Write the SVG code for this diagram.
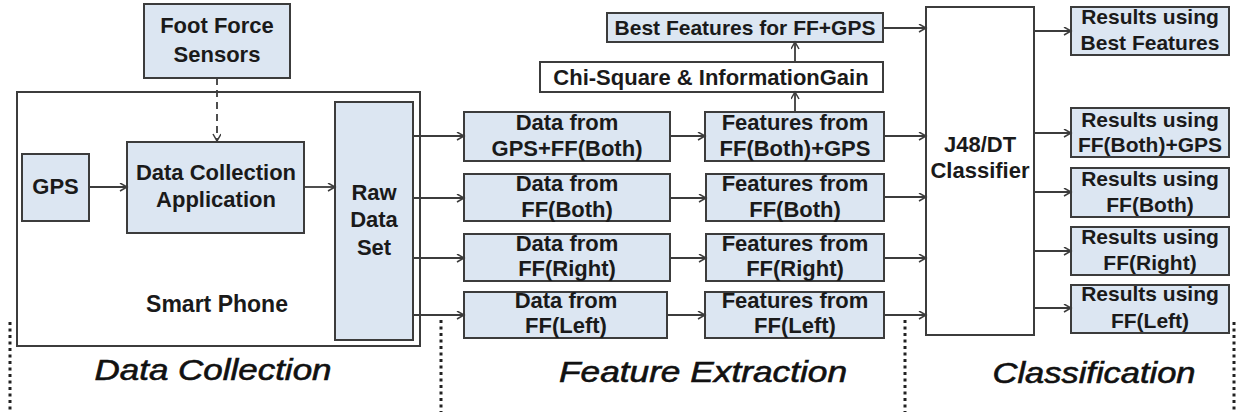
<svg xmlns="http://www.w3.org/2000/svg" width="1236" height="420" viewBox="0 0 1236 420">
<defs>
<style>
.box{fill:#dce6f2;stroke:#3c3c3c;stroke-width:2}
.wbox{fill:#ffffff;stroke:#3c3c3c;stroke-width:2}
.t{font-family:"Liberation Sans",Arial,sans-serif;font-weight:bold;font-size:22px;fill:#1a1a1a;text-anchor:middle}
.s{font-size:21px}
.big{font-size:23px}
.sec{font-family:"Liberation Sans",Arial,sans-serif;font-style:italic;font-size:29px;fill:#111;stroke:#111;stroke-width:0.6;text-anchor:middle}
.ln{fill:none;stroke:#3c3c3c;stroke-width:1.8}
.dash{fill:none;stroke:#3c3c3c;stroke-width:1.8;stroke-dasharray:7 5}
.dot{fill:none;stroke:#222;stroke-width:3;stroke-dasharray:3 3.5}
</style>
<marker id="ah" markerWidth="10" markerHeight="10" refX="8" refY="4" orient="auto" markerUnits="userSpaceOnUse">
<path d="M1,0 L8,4 L1,8" fill="none" stroke="#3c3c3c" stroke-width="1.5"/>
</marker>
</defs>
<rect width="1236" height="420" fill="#ffffff"/>

<g id="smart-phone">
<rect class="wbox" x="17" y="92" width="403" height="254"/>
<text class="t big" x="217" y="312">Smart Phone</text>
</g>
<g id="foot-force-sensors">
<rect class="box" x="144" y="4" width="146" height="74"/>
<text class="t" x="217" y="33">Foot Force</text>
<text class="t" x="217" y="62">Sensors</text>
</g>
<g id="gps">
<rect class="box" x="22" y="154" width="67" height="67"/>
<text class="t" x="55.5" y="194">GPS</text>
</g>
<g id="data-collection-application">
<rect class="box" x="127" y="142" width="177" height="91"/>
<text class="t" x="216" y="180">Data Collection</text>
<text class="t" x="216" y="207">Application</text>
</g>
<g id="raw-data-set">
<rect class="box" x="335" y="102" width="78" height="238"/>
<text class="t" x="374" y="200">Raw</text>
<text class="t" x="374" y="227">Data</text>
<text class="t" x="374" y="255">Set</text>
</g>

<g id="best-features">
<rect class="box" x="607" y="13" width="276" height="29"/>
<text class="t s" x="745" y="35">Best Features for FF+GPS</text>
</g>
<g id="chi-square">
<rect class="wbox" x="540" y="62" width="343" height="30"/>
<text class="t" x="711" y="85">Chi-Square &amp; InformationGain</text>
</g>

<g id="data-gps-ff-both">
<rect class="box" x="464" y="112" width="206" height="49"/>
<text class="t" x="567" y="130">Data from</text>
<text class="t" x="567" y="156">GPS+FF(Both)</text>
</g>
<g id="data-ff-both">
<rect class="box" x="464" y="174" width="206" height="47"/>
<text class="t" x="567" y="191">Data from</text>
<text class="t" x="567" y="217">FF(Both)</text>
</g>
<g id="data-ff-right">
<rect class="box" x="464" y="234" width="206" height="47"/>
<text class="t" x="567" y="251">Data from</text>
<text class="t" x="567" y="276">FF(Right)</text>
</g>
<g id="data-ff-left">
<rect class="box" x="464" y="292" width="203" height="46"/>
<text class="t" x="566" y="308">Data from</text>
<text class="t" x="566" y="333">FF(Left)</text>
</g>

<g id="features-ff-both-gps">
<rect class="box" x="705" y="112" width="179" height="49"/>
<text class="t" x="795" y="130">Features from</text>
<text class="t" x="795" y="156">FF(Both)+GPS</text>
</g>
<g id="features-ff-both">
<rect class="box" x="706" y="174" width="178" height="47"/>
<text class="t" x="795" y="191">Features from</text>
<text class="t" x="795" y="217">FF(Both)</text>
</g>
<g id="features-ff-right">
<rect class="box" x="706" y="234" width="178" height="47"/>
<text class="t" x="795" y="251">Features from</text>
<text class="t" x="795" y="276">FF(Right)</text>
</g>
<g id="features-ff-left">
<rect class="box" x="705" y="292" width="179" height="46"/>
<text class="t" x="795" y="308">Features from</text>
<text class="t" x="795" y="333">FF(Left)</text>
</g>

<g id="j48-classifier">
<rect class="wbox" x="926" y="7" width="108" height="328"/>
<text class="t" x="980" y="152">J48/DT</text>
<text class="t" x="980" y="178">Classifier</text>
</g>

<g id="results-best">
<rect class="box" x="1071" y="7" width="158" height="48"/>
<text class="t s" x="1150" y="24">Results using</text>
<text class="t s" x="1150" y="50">Best Features</text>
</g>
<g id="results-ff-both-gps">
<rect class="box" x="1071" y="108" width="158" height="49"/>
<text class="t s" x="1150" y="127">Results using</text>
<text class="t s" x="1150" y="152">FF(Both)+GPS</text>
</g>
<g id="results-ff-both">
<rect class="box" x="1071" y="168" width="158" height="49"/>
<text class="t s" x="1150" y="186">Results using</text>
<text class="t s" x="1150" y="212">FF(Both)</text>
</g>
<g id="results-ff-right">
<rect class="box" x="1071" y="227" width="158" height="48"/>
<text class="t s" x="1150" y="244">Results using</text>
<text class="t s" x="1150" y="270">FF(Right)</text>
</g>
<g id="results-ff-left">
<rect class="box" x="1071" y="285" width="158" height="48"/>
<text class="t s" x="1150" y="301">Results using</text>
<text class="t s" x="1150" y="328">FF(Left)</text>
</g>

<g id="connectors">
<line class="dash" x1="217" y1="78" x2="217" y2="141" marker-end="url(#ah)"/>
<line class="ln" x1="89" y1="187" x2="127" y2="187" marker-end="url(#ah)"/>
<line class="ln" x1="304" y1="187" x2="335" y2="187" marker-end="url(#ah)"/>

<line class="ln" x1="413" y1="136" x2="464" y2="136" marker-end="url(#ah)"/>
<line class="ln" x1="413" y1="198" x2="464" y2="198" marker-end="url(#ah)"/>
<line class="ln" x1="413" y1="258" x2="464" y2="258" marker-end="url(#ah)"/>
<line class="ln" x1="413" y1="315" x2="464" y2="315" marker-end="url(#ah)"/>

<line class="ln" x1="670" y1="136" x2="705" y2="136" marker-end="url(#ah)"/>
<line class="ln" x1="670" y1="198" x2="706" y2="198" marker-end="url(#ah)"/>
<line class="ln" x1="670" y1="258" x2="706" y2="258" marker-end="url(#ah)"/>
<line class="ln" x1="667" y1="315" x2="705" y2="315" marker-end="url(#ah)"/>

<line class="ln" x1="795" y1="112" x2="795" y2="92" marker-end="url(#ah)"/>
<line class="ln" x1="795" y1="62" x2="795" y2="42" marker-end="url(#ah)"/>

<line class="ln" x1="883" y1="28" x2="926" y2="28" marker-end="url(#ah)"/>
<line class="ln" x1="884" y1="136" x2="926" y2="136" marker-end="url(#ah)"/>
<line class="ln" x1="884" y1="197" x2="926" y2="197" marker-end="url(#ah)"/>
<line class="ln" x1="884" y1="258" x2="926" y2="258" marker-end="url(#ah)"/>
<line class="ln" x1="884" y1="315" x2="926" y2="315" marker-end="url(#ah)"/>

<line class="ln" x1="1034" y1="31" x2="1071" y2="31" marker-end="url(#ah)"/>
<line class="ln" x1="1034" y1="133" x2="1071" y2="133" marker-end="url(#ah)"/>
<line class="ln" x1="1034" y1="192" x2="1071" y2="192" marker-end="url(#ah)"/>
<line class="ln" x1="1034" y1="251" x2="1071" y2="251" marker-end="url(#ah)"/>
<line class="ln" x1="1034" y1="308" x2="1071" y2="308" marker-end="url(#ah)"/>
</g>

<g id="sections">
<line class="dot" x1="10" y1="322" x2="10" y2="412"/>
<line class="dot" x1="441" y1="320" x2="441" y2="412"/>
<line class="dot" x1="905" y1="320" x2="905" y2="412"/>
<line class="dot" x1="1234" y1="322" x2="1234" y2="412"/>
<text class="sec" x="213" y="380" textLength="237" lengthAdjust="spacingAndGlyphs">Data Collection</text>
<text class="sec" x="703" y="382" textLength="288" lengthAdjust="spacingAndGlyphs">Feature Extraction</text>
<text class="sec" x="1094" y="383" textLength="203" lengthAdjust="spacingAndGlyphs">Classification</text>
</g>
</svg>
